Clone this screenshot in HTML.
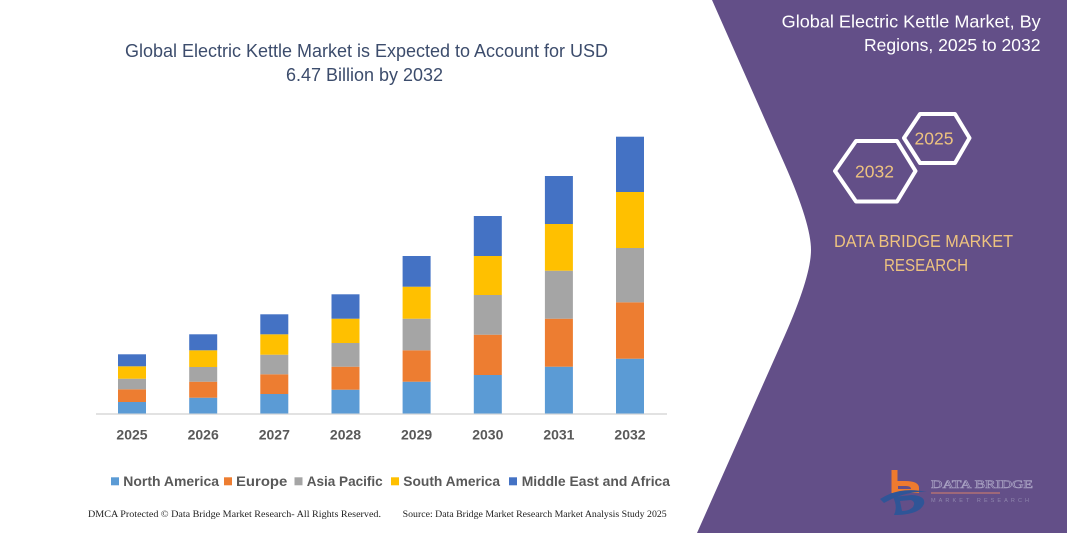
<!DOCTYPE html>
<html>
<head>
<meta charset="utf-8">
<style>
html,body{margin:0;padding:0;background:#fff;}
svg{display:block;}
</style>
</head>
<body>
<svg width="1067" height="533" viewBox="0 0 1067 533" xmlns="http://www.w3.org/2000/svg">
<rect x="0" y="0" width="1067" height="533" fill="#ffffff"/>
<!-- right purple panel -->
<path d="M712,0 L785,165 Q811,224 811,250 Q811,276 785,335 L697,533 L1067,533 L1067,0 Z" fill="#634f88"/>

<!-- chart title -->
<g font-family="Liberation Sans, sans-serif" fill="#3c4c6c" font-size="18.5">
<text x="125" y="57" textLength="483" lengthAdjust="spacingAndGlyphs">Global Electric Kettle Market is Expected to Account for USD</text>
<text x="286" y="81" textLength="157" lengthAdjust="spacingAndGlyphs">6.47 Billion by 2032</text>
</g>

<!-- axis -->
<line x1="96" y1="414" x2="667" y2="414" stroke="#d9d9d9" stroke-width="1.5"/>

<!-- bars -->
<g>
<!-- 2025 -->
<rect x="118" y="402" width="28" height="11.5" fill="#5b9bd5"/>
<rect x="118" y="389.3" width="28" height="12.7" fill="#ed7d31"/>
<rect x="118" y="378.7" width="28" height="10.6" fill="#a5a5a5"/>
<rect x="118" y="366.3" width="28" height="12.4" fill="#ffc000"/>
<rect x="118" y="354.3" width="28" height="12" fill="#4472c4"/>
<!-- 2026 -->
<rect x="189.2" y="397.7" width="28" height="15.8" fill="#5b9bd5"/>
<rect x="189.2" y="381.7" width="28" height="16" fill="#ed7d31"/>
<rect x="189.2" y="367" width="28" height="14.7" fill="#a5a5a5"/>
<rect x="189.2" y="350.3" width="28" height="16.7" fill="#ffc000"/>
<rect x="189.2" y="334.3" width="28" height="16" fill="#4472c4"/>
<!-- 2027 -->
<rect x="260.3" y="394" width="28" height="19.5" fill="#5b9bd5"/>
<rect x="260.3" y="374.3" width="28" height="19.7" fill="#ed7d31"/>
<rect x="260.3" y="354.7" width="28" height="19.6" fill="#a5a5a5"/>
<rect x="260.3" y="334.3" width="28" height="20.4" fill="#ffc000"/>
<rect x="260.3" y="314.3" width="28" height="20" fill="#4472c4"/>
<!-- 2028 -->
<rect x="331.5" y="389.7" width="28" height="23.8" fill="#5b9bd5"/>
<rect x="331.5" y="366.7" width="28" height="23" fill="#ed7d31"/>
<rect x="331.5" y="343" width="28" height="23.7" fill="#a5a5a5"/>
<rect x="331.5" y="318.7" width="28" height="24.3" fill="#ffc000"/>
<rect x="331.5" y="294.3" width="28" height="24.4" fill="#4472c4"/>
<!-- 2029 -->
<rect x="402.6" y="381.7" width="28" height="31.8" fill="#5b9bd5"/>
<rect x="402.6" y="350.3" width="28" height="31.4" fill="#ed7d31"/>
<rect x="402.6" y="318.7" width="28" height="31.6" fill="#a5a5a5"/>
<rect x="402.6" y="286.7" width="28" height="32" fill="#ffc000"/>
<rect x="402.6" y="256" width="28" height="30.7" fill="#4472c4"/>
<!-- 2030 -->
<rect x="473.8" y="375" width="28" height="38.5" fill="#5b9bd5"/>
<rect x="473.8" y="334.7" width="28" height="40.3" fill="#ed7d31"/>
<rect x="473.8" y="295" width="28" height="39.7" fill="#a5a5a5"/>
<rect x="473.8" y="256" width="28" height="39" fill="#ffc000"/>
<rect x="473.8" y="216" width="28" height="40" fill="#4472c4"/>
<!-- 2031 -->
<rect x="544.9" y="366.7" width="28" height="46.8" fill="#5b9bd5"/>
<rect x="544.9" y="318.7" width="28" height="48" fill="#ed7d31"/>
<rect x="544.9" y="270.7" width="28" height="48" fill="#a5a5a5"/>
<rect x="544.9" y="224" width="28" height="46.7" fill="#ffc000"/>
<rect x="544.9" y="176" width="28" height="48" fill="#4472c4"/>
<!-- 2032 -->
<rect x="616" y="358.7" width="28" height="54.8" fill="#5b9bd5"/>
<rect x="616" y="302.3" width="28" height="56.4" fill="#ed7d31"/>
<rect x="616" y="248" width="28" height="54.3" fill="#a5a5a5"/>
<rect x="616" y="192" width="28" height="56" fill="#ffc000"/>
<rect x="616" y="136.7" width="28" height="55.3" fill="#4472c4"/>
</g>

<!-- year labels -->
<g font-family="Liberation Sans, sans-serif" font-weight="bold" font-size="14" fill="#595959" text-anchor="middle">
<text x="132" y="439.5">2025</text>
<text x="203.2" y="439.5">2026</text>
<text x="274.3" y="439.5">2027</text>
<text x="345.5" y="439.5">2028</text>
<text x="416.6" y="439.5">2029</text>
<text x="487.8" y="439.5">2030</text>
<text x="558.9" y="439.5">2031</text>
<text x="630" y="439.5">2032</text>
</g>

<!-- legend -->
<rect x="111" y="477.3" width="8" height="8" fill="#5b9bd5"/>
<rect x="224" y="477.3" width="8" height="8" fill="#ed7d31"/>
<rect x="294.5" y="477.3" width="8" height="8" fill="#a5a5a5"/>
<rect x="391" y="477.3" width="8" height="8" fill="#ffc000"/>
<rect x="509" y="477.3" width="8" height="8" fill="#4472c4"/>
<g font-family="Liberation Sans, sans-serif" font-weight="bold" font-size="14" fill="#595959">
<text x="123.3" y="486" textLength="95.7" lengthAdjust="spacingAndGlyphs">North America</text>
<text x="236" y="486" textLength="51.3" lengthAdjust="spacingAndGlyphs">Europe</text>
<text x="306.7" y="486" textLength="76" lengthAdjust="spacingAndGlyphs">Asia Pacific</text>
<text x="403.3" y="486" textLength="96.7" lengthAdjust="spacingAndGlyphs">South America</text>
<text x="521.7" y="486" textLength="148.3" lengthAdjust="spacingAndGlyphs">Middle East and Africa</text>
</g>

<!-- footer -->
<g font-family="Liberation Serif, serif" font-size="9.5" fill="#222">
<text x="88" y="517" textLength="293" lengthAdjust="spacingAndGlyphs">DMCA Protected © Data Bridge Market Research- All Rights Reserved.</text>
<text x="402.7" y="517" textLength="264" lengthAdjust="spacingAndGlyphs">Source: Data Bridge Market Research  Market Analysis Study 2025</text>
</g>

<!-- right panel title -->
<g font-family="Liberation Sans, sans-serif" font-size="17.5" fill="#ffffff">
<text x="781.7" y="27.5" textLength="259" lengthAdjust="spacingAndGlyphs">Global Electric Kettle Market, By</text>
<text x="864" y="51" textLength="176.5" lengthAdjust="spacingAndGlyphs">Regions, 2025 to 2032</text>
</g>

<!-- hexagons -->
<polygon points="835,171 856,141 897,141 915.5,171 897,201.5 856,201.5" fill="none" stroke="#ffffff" stroke-width="4" stroke-linejoin="round"/>
<polygon points="904,138 920,114 955,114 969.5,138 955,163 920,163" fill="none" stroke="#ffffff" stroke-width="4" stroke-linejoin="round"/>
<g font-family="Liberation Sans, sans-serif" font-size="17.5" fill="#eec37f" text-anchor="middle">
<text x="874.5" y="177.3">2032</text>
<text x="934" y="144.3">2025</text>
</g>

<!-- DATA BRIDGE MARKET RESEARCH -->
<g font-family="Liberation Sans, sans-serif" font-size="17.5" fill="#eec37f">
<text x="834" y="247" textLength="179" lengthAdjust="spacingAndGlyphs">DATA BRIDGE MARKET</text>
<text x="884" y="271" textLength="84" lengthAdjust="spacingAndGlyphs">RESEARCH</text>
</g>

<!-- logo -->
<g>
<rect x="891.5" y="470" width="6" height="22" fill="#ee7a2e"/>
<path d="M891.5,481 L905,481 Q919,481 919,488 L919,493 L891.5,493 Z" fill="#ee7a2e"/>
<path d="M898,486 L906,486 Q911,486 911,489 L898,489 Z" fill="#634f88"/>
<path d="M880,499 Q900,486 927,492 Q905,491 884,503 Z" fill="#2f5597"/>
<path d="M893,497 L912,495 Q926,496 924,504 Q920,514 898,515 L894,515 Q898,507 893,497 Z" fill="#2f5597"/>
<path d="M900,501 L911,500 Q916,502 913,507 Q909,511 902,511 Z" fill="#634f88"/>
<text x="931" y="488" font-family="Liberation Serif, serif" font-size="12" fill="none" stroke="#a9a2c3" stroke-width="0.6" textLength="102" lengthAdjust="spacingAndGlyphs">DATA BRIDGE</text>
<line x1="931" y1="493" x2="1000" y2="493" stroke="#d9826a" stroke-width="1"/>
<text x="931" y="502" font-family="Liberation Sans, sans-serif" font-size="5.5" fill="#8f86ad" textLength="98" lengthAdjust="spacing">MARKET RESEARCH</text>
</g>
</svg>
</body>
</html>
